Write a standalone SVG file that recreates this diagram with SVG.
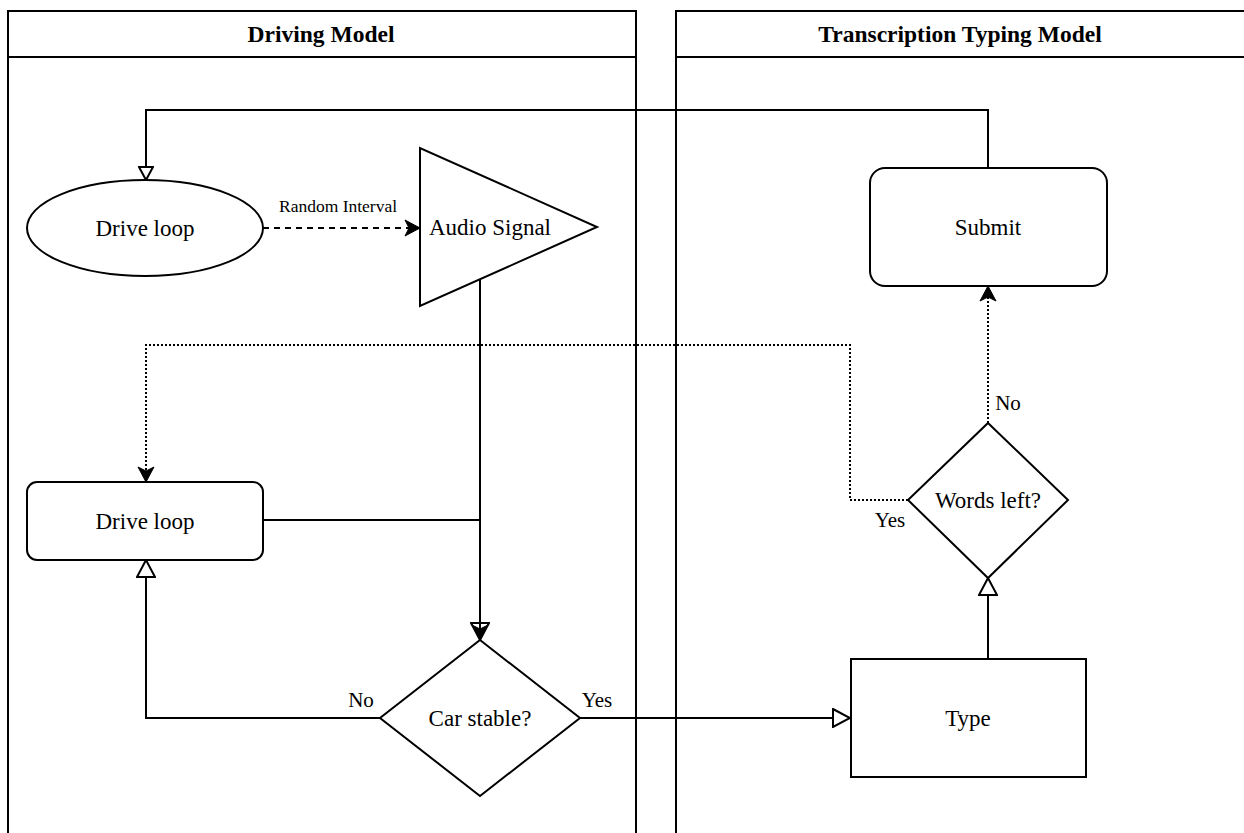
<svg xmlns="http://www.w3.org/2000/svg" width="1244" height="833" viewBox="0 0 1244 833">
<style>
.ln{fill:none;stroke:#000;stroke-width:2}
.sh{fill:#fff;stroke:#000;stroke-width:2}
.t{font-family:"Liberation Serif","Times New Roman","DejaVu Serif",serif;font-size:23px;fill:#000;text-anchor:middle;dominant-baseline:central}
.h{font-family:"Liberation Serif","Times New Roman","DejaVu Serif",serif;font-size:23.5px;font-weight:bold;fill:#000;text-anchor:middle;dominant-baseline:central}
.lb{font-family:"Liberation Serif","Times New Roman","DejaVu Serif",serif;font-size:21px;fill:#000;text-anchor:middle}
.sm{font-family:"Liberation Serif","Times New Roman","DejaVu Serif",serif;font-size:17.5px;fill:#000;text-anchor:middle}
</style>
<defs>
<marker id="hollow" markerWidth="20" markerHeight="20" refX="18" refY="10" orient="auto" markerUnits="userSpaceOnUse">
<path d="M1,1 L18,10 L1,19 Z" fill="#fff" stroke="#000" stroke-width="2"/>
</marker>
<marker id="hollowsm" markerWidth="16" markerHeight="16" refX="14" refY="8" orient="auto" markerUnits="userSpaceOnUse">
<path d="M1,1 L14,8 L1,15 Z" fill="#fff" stroke="#000" stroke-width="2"/>
</marker>
<marker id="filled" markerWidth="18" markerHeight="18" refX="16" refY="9" orient="auto" markerUnits="userSpaceOnUse">
<path d="M1,1 L16,9 L1,17 L5,9 Z" fill="#000" stroke="#000" stroke-width="1"/>
</marker>
</defs>
<rect width="1244" height="833" fill="#fff"/>
<g id="lane-driving">
<path class="ln" d="M8,833 V11 H636 V833"/>
<line class="ln" x1="8" y1="57" x2="636" y2="57"/>
<text class="h" x="321" y="34">Driving Model</text>
</g>
<g id="lane-typing">
<path class="ln" d="M676,833 V11 H1250"/>
<line class="ln" x1="676" y1="57" x2="1250" y2="57"/>
<text class="h" x="960" y="34">Transcription Typing Model</text>
</g>
<g id="connectors">
<path class="ln" d="M988,168 V110 H146 V180" marker-end="url(#hollowsm)"/>
<line class="ln" x1="263" y1="228" x2="420" y2="228" stroke-dasharray="6,5" marker-end="url(#filled)"/>
<text class="sm" x="338" y="212">Random Interval</text>
<path class="ln" d="M263,520 H480 V640" marker-end="url(#hollow)"/>
<line class="ln" x1="480" y1="280" x2="480" y2="640" marker-end="url(#filled)"/>
<path class="ln" d="M380,718 H146 V560" marker-end="url(#hollow)"/>
<text class="lb" x="361" y="707">No</text>
<line class="ln" x1="580" y1="718" x2="850" y2="718" marker-end="url(#hollow)"/>
<text class="lb" x="597" y="707">Yes</text>
<line class="ln" x1="988" y1="659" x2="988" y2="578" marker-end="url(#hollow)"/>
<line class="ln" x1="988" y1="423" x2="988" y2="286" stroke-dasharray="2,2" marker-end="url(#filled)"/>
<text class="lb" x="1008" y="410">No</text>
<path class="ln" d="M908,500 H850 V345 H146 V482" stroke-dasharray="2,2" marker-end="url(#filled)"/>
<text class="lb" x="890" y="527">Yes</text>
</g>
<g id="node-drive-loop-1">
<ellipse class="sh" cx="145" cy="228" rx="118" ry="48"/>
<text class="t" x="145" y="228">Drive loop</text>
</g>
<g id="node-audio-signal">
<polygon class="sh" points="420,148 420,306 597,227"/>
<text class="t" x="490" y="227">Audio Signal</text>
</g>
<g id="node-submit">
<rect class="sh" x="870" y="168" width="237" height="118" rx="15"/>
<text class="t" x="988" y="227">Submit</text>
</g>
<g id="node-words-left">
<polygon class="sh" points="988,423 1068,500 988,578 908,500"/>
<text class="t" x="988" y="500">Words left?</text>
</g>
<g id="node-drive-loop-2">
<rect class="sh" x="27" y="482" width="236" height="78" rx="10"/>
<text class="t" x="145" y="521">Drive loop</text>
</g>
<g id="node-car-stable">
<polygon class="sh" points="480,640 580,718 480,796 380,718"/>
<text class="t" x="480" y="718">Car stable?</text>
</g>
<g id="node-type">
<rect class="sh" x="851" y="659" width="235" height="118"/>
<text class="t" x="968" y="718">Type</text>
</g>
</svg>
